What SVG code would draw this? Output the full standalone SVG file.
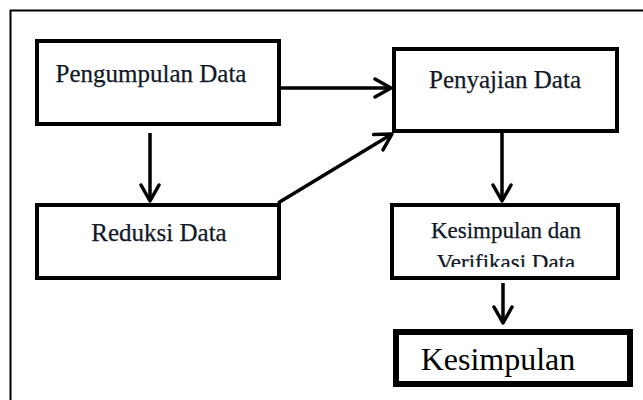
<svg xmlns="http://www.w3.org/2000/svg" width="643" height="400" viewBox="0 0 643 400">
<style>
.box{fill:#fff;stroke:#000;stroke-width:4}
.lbl{font-family:"Liberation Serif","Times New Roman","DejaVu Serif",serif;fill:#111827;text-anchor:middle;stroke:#111827;stroke-width:0.25}
.edge{fill:none;stroke:#000;stroke-width:3.5}
</style>
<defs>
<marker id="ah" viewBox="0 0 20 22" refX="18" refY="11" markerWidth="20" markerHeight="22" markerUnits="userSpaceOnUse" orient="auto">
<path d="M2,2 L18,11 L2,20" fill="none" stroke="#000" stroke-width="3.5" stroke-linecap="round" stroke-linejoin="round"/>
</marker>
<clipPath id="clipV"><rect x="392" y="205" width="226" height="62"/></clipPath>
</defs>
<rect width="643" height="400" fill="#fff"/>
<path d="M10.5,400 V10.5 H643" fill="none" stroke="#000" stroke-width="2"/>
<g id="pengumpulan">
<rect class="box" x="37" y="41" width="242" height="83"/>
<text class="lbl" x="151" y="82" font-size="25">Pengumpulan Data</text>
</g>
<g id="penyajian">
<rect class="box" x="394" y="49" width="223" height="82"/>
<text class="lbl" x="505" y="88" font-size="25">Penyajian Data</text>
</g>
<g id="reduksi">
<rect class="box" x="37" y="205" width="242" height="73"/>
<text class="lbl" x="159" y="241" font-size="25">Reduksi Data</text>
</g>
<g id="verifikasi">
<rect class="box" x="392" y="205" width="226" height="73"/>
<text class="lbl" x="506" y="238" font-size="23">Kesimpulan dan</text>
<text class="lbl" x="506" y="270" font-size="23" clip-path="url(#clipV)">Verifikasi Data</text>
</g>
<g id="kesimpulan">
<rect x="396" y="332" width="234" height="52" fill="#fff" stroke="#000" stroke-width="6"/>
<text x="498" y="370" font-size="32" font-family="Liberation Serif,'Times New Roman',serif" fill="#000" text-anchor="middle">Kesimpulan</text>
</g>
<g id="connectors">
<line class="edge" x1="150" y1="133" x2="150" y2="201" marker-end="url(#ah)"/>
<line class="edge" x1="281" y1="88" x2="391" y2="88" marker-end="url(#ah)"/>
<line class="edge" x1="278" y1="203" x2="392" y2="134" marker-end="url(#ah)"/>
<line class="edge" x1="502" y1="133" x2="502" y2="201" marker-end="url(#ah)"/>
<line class="edge" x1="503" y1="283" x2="503" y2="323" marker-end="url(#ah)"/>
</g>
</svg>
